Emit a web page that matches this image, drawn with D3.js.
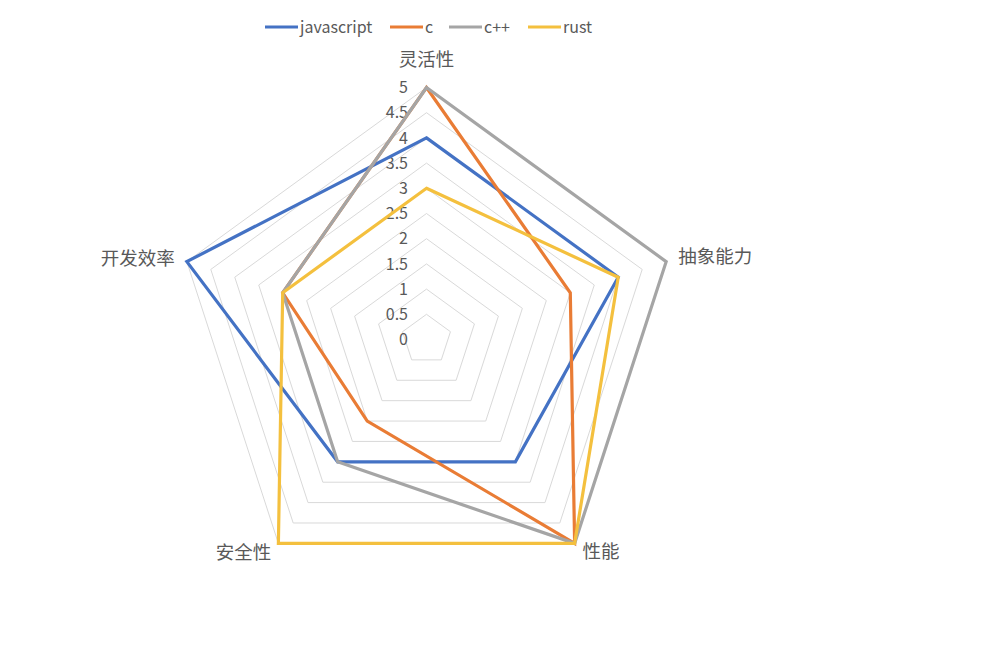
<!DOCTYPE html>
<html><head><meta charset="utf-8">
<script src="https://cdn.jsdelivr.net/npm/d3@7"></script>
<style>body{margin:0;background:#fff}svg{display:block}</style>
</head><body>
<svg id="chart" width="984" height="672"></svg>
<script>
const axes = ["灵活性","抽象能力","性能","安全性","开发效率"];
const seriesNames = ["javascript","c","c++","rust"];
const javascript = [4,4,3,3,5];
const c = [5,3,5,2,3];
const cpp = [5,5,5,3,3];
const rust = [3,4,5,5,3];
const ticks = [0,0.5,1,1.5,2,2.5,3,3.5,4,4.5,5];
const colors = ["#4472C4","#E97C35","#A5A5A5","#F4C03E"];
const seriesValues = [javascript,c,cpp,rust];

const svg = d3.select("#chart");
const cx = 426.5, cy = 339.5, R = 252;
const font = "'Noto Sans CJK SC','Noto Sans',sans-serif";
const r = d3.scaleLinear().domain([0,5]).range([0,R]);
const ang = d3.scaleLinear().domain([0,axes.length]).range([-Math.PI/2, 1.5*Math.PI]);
const pt = (i,v)=>[cx + r(v)*Math.cos(ang(i)), cy + r(v)*Math.sin(ang(i))];

const g = svg.append("g");
// grid
ticks.filter(t=>t>0).forEach(t=>{
  g.append("polygon")
   .attr("points", axes.map((a,i)=>pt(i,t).join(",")).join(" "))
   .attr("fill","none").attr("stroke","#d9d9d9").attr("stroke-width",1);
});
// tick labels
g.selectAll("text.tick").data(ticks).enter().append("text")
  .attr("x", cx-18.5).attr("y", d=>cy - r(d))
  .attr("dy","0.35em").attr("text-anchor","end")
  .attr("font-family",font).attr("font-size",16).attr("fill","#595959")
  .text(d=>d);
// series
const line = d3.line().curve(d3.curveLinearClosed);
seriesValues.forEach((vals,k)=>{
  g.append("path")
   .attr("d", line(vals.map((v,i)=>pt(i,v))))
   .attr("fill","none").attr("stroke",colors[k]).attr("stroke-width",3.2)
   .attr("stroke-linejoin","miter");
});
// axis labels
const labelPos = [
  {dx:0, dy:-28, anchor:"middle"},
  {dx:12, dy:-5, anchor:"start"},
  {dx:8, dy:8, anchor:"start"},
  {dx:-7, dy:9, anchor:"end"},
  {dx:-12, dy:-3, anchor:"end"}
];
axes.forEach((a,i)=>{
  const [x,y] = pt(i,5);
  g.append("text").attr("x", x+labelPos[i].dx).attr("y", y+labelPos[i].dy)
   .attr("dy","0.35em").attr("text-anchor",labelPos[i].anchor)
   .attr("font-family",font).attr("font-size",18.5).attr("fill","#595959")
   .text(a);
});
// legend
const legX = [265,390,449,528];
seriesNames.forEach((n,k)=>{
  const lg = svg.append("g");
  lg.append("line").attr("x1",legX[k]).attr("x2",legX[k]+33).attr("y1",27).attr("y2",27)
    .attr("stroke",colors[k]).attr("stroke-width",3);
  lg.append("text").attr("x",legX[k]+35).attr("y",27).attr("dy","0.35em")
    .attr("font-family",font).attr("font-size",16).attr("fill","#595959").text(n);
});
</script>
</body></html>
